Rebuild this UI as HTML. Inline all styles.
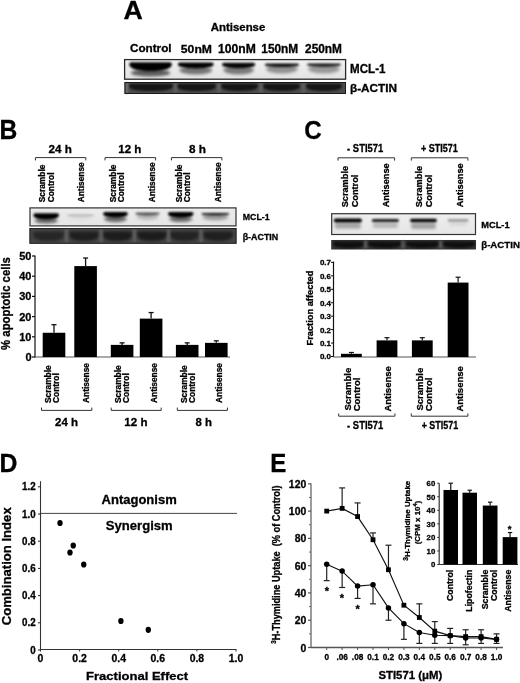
<!DOCTYPE html>
<html><head><meta charset="utf-8"><title>Figure</title>
<style>
html,body{margin:0;padding:0;background:#fff;}
body{width:520px;height:683px;overflow:hidden;}
svg{display:block;font-family:"Liberation Sans", Arial, sans-serif;font-weight:bold;}
text{fill:#000;stroke:#000;stroke-width:0.3px;}
</style></head>
<body>
<svg width="520" height="683" viewBox="0 0 520 683">
<defs><filter id="b0_8" x="-50%" y="-100%" width="200%" height="300%"><feGaussianBlur stdDeviation="0.8"/></filter><filter id="b0_9" x="-50%" y="-100%" width="200%" height="300%"><feGaussianBlur stdDeviation="0.9"/></filter><filter id="b1_2" x="-50%" y="-100%" width="200%" height="300%"><feGaussianBlur stdDeviation="1.2"/></filter><filter id="b1_6" x="-50%" y="-100%" width="200%" height="300%"><feGaussianBlur stdDeviation="1.6"/></filter><filter id="b1_8" x="-50%" y="-100%" width="200%" height="300%"><feGaussianBlur stdDeviation="1.8"/></filter><linearGradient id="gA" x1="0" y1="0" x2="0" y2="1"><stop offset="0" stop-color="#f2f2f2"/><stop offset="1" stop-color="#e2e2e2"/></linearGradient><linearGradient id="gB" x1="0" y1="0" x2="0" y2="1"><stop offset="0" stop-color="#ececec"/><stop offset="1" stop-color="#e4e4e4"/></linearGradient><linearGradient id="gC" x1="0" y1="0" x2="0" y2="1"><stop offset="0" stop-color="#eeeeee"/><stop offset="1" stop-color="#e6e6e6"/></linearGradient></defs>
<rect width="520" height="683" fill="#fff"/>
<text transform="translate(123.53,18.75) scale(1.041,1)" font-size="25.67" text-anchor="start" >A</text>
<text transform="translate(210.71,30.99) scale(1.038,1)" font-size="11.02" text-anchor="start" >Antisense</text>
<text transform="translate(129.93,52.39) scale(1.038,1)" font-size="11.29" text-anchor="start" >Control</text>
<text transform="translate(180.83,52.68) scale(1.043,1)" font-size="11.69" text-anchor="start" >50nM</text>
<text transform="translate(218.02,52.88) scale(1.014,1)" font-size="11.97" text-anchor="start" >100nM</text>
<text transform="translate(261.29,52.88) scale(0.993,1)" font-size="11.97" text-anchor="start" >150nM</text>
<text transform="translate(305.08,52.88) scale(0.992,1)" font-size="11.97" text-anchor="start" >250nM</text>
<rect x="124" y="59" width="222" height="20.5" fill="url(#gA)" />
<path d="M129.3,64.2 Q129.3,62.2 131.3,62.2 L169.8,62.2 Q171.8,62.2 171.8,64.2 C171.8,68.95 163.3,71.2 150.55,71.2 C137.8,71.2 129.3,68.95 129.3,64.2 Z" fill="#000" fill-opacity="1.0" filter="url(#b0_9)"/>
<ellipse cx="150.55" cy="72.88" rx="19.55" ry="3.62" fill="#000" fill-opacity="0.6" filter="url(#b1_6)"/>
<path d="M177.8,64.5 Q177.8,62.5 179.8,62.5 L211.7,62.5 Q213.7,62.5 213.7,64.5 C213.7,66.93 206.52,68.4 195.75,68.4 C184.98,68.4 177.8,66.93 177.8,64.5 Z" fill="#000" fill-opacity="1.0" filter="url(#b0_9)"/>
<ellipse cx="195.75" cy="70.36" rx="16.51" ry="4.14" fill="#000" fill-opacity="0.5" filter="url(#b1_6)"/>
<path d="M222,64.8 Q222,62.8 224,62.8 L253.2,62.8 Q255.2,62.8 255.2,64.8 C255.2,66.92 248.56,68.3 238.6,68.3 C228.64,68.3 222,66.92 222,64.8 Z" fill="#000" fill-opacity="0.97" filter="url(#b0_9)"/>
<ellipse cx="238.6" cy="70.3" rx="15.27" ry="4.21" fill="#000" fill-opacity="0.48" filter="url(#b1_6)"/>
<path d="M264.8,65.2 Q264.8,63.4 266.6,63.4 L297.2,63.4 Q299,63.4 299,65.2 C299,66.1 292.16,67 281.9,67 C271.64,67 264.8,66.1 264.8,65.2 Z" fill="#000" fill-opacity="0.9" filter="url(#b0_9)"/>
<ellipse cx="281.9" cy="69.1" rx="15.73" ry="4.4" fill="#000" fill-opacity="0.38" filter="url(#b1_6)"/>
<path d="M306.8,65.1 Q306.8,63.4 308.5,63.4 L339.3,63.4 Q341,63.4 341,65.1 C341,65.95 334.16,66.8 323.9,66.8 C313.64,66.8 306.8,65.95 306.8,65.1 Z" fill="#000" fill-opacity="0.85" filter="url(#b0_9)"/>
<ellipse cx="323.9" cy="68.97" rx="15.73" ry="4.53" fill="#000" fill-opacity="0.35" filter="url(#b1_6)"/>
<rect x="124.6" y="59.6" width="221" height="19.6" fill="none" stroke="#2a2a2a" stroke-width="1.3"/>
<rect x="124.5" y="82" width="221.5" height="11.7" fill="#4c4c4c" />
<path d="M129,85.8 Q129,83.8 131,83.8 L171,83.8 Q173,83.8 173,85.8 C173,90.28 164.2,91 151,91 C137.8,91 129,90.28 129,85.8 Z" fill="#000" fill-opacity="0.72" filter="url(#b1_2)"/>
<path d="M177,85.8 Q177,83.8 179,83.8 L214,83.8 Q216,83.8 216,85.8 C216,90.28 208.2,91 196.5,91 C184.8,91 177,90.28 177,85.8 Z" fill="#000" fill-opacity="0.72" filter="url(#b1_2)"/>
<path d="M221,85.8 Q221,83.8 223,83.8 L256,83.8 Q258,83.8 258,85.8 C258,90.28 250.6,91 239.5,91 C228.4,91 221,90.28 221,85.8 Z" fill="#000" fill-opacity="0.72" filter="url(#b1_2)"/>
<path d="M263,85.8 Q263,83.8 265,83.8 L298,83.8 Q300,83.8 300,85.8 C300,90.28 292.6,91 281.5,91 C270.4,91 263,90.28 263,85.8 Z" fill="#000" fill-opacity="0.72" filter="url(#b1_2)"/>
<path d="M306,85.8 Q306,83.8 308,83.8 L340,83.8 Q342,83.8 342,85.8 C342,90.28 334.8,91 324,91 C313.2,91 306,90.28 306,85.8 Z" fill="#000" fill-opacity="0.72" filter="url(#b1_2)"/>
<rect x="125" y="82.5" width="3" height="11" fill="#888" fill-opacity="0.6" filter="url(#b0_8)"/>
<rect x="174" y="83" width="3" height="10" fill="#777" fill-opacity="0.45" filter="url(#b1_2)"/>
<rect x="217.5" y="83" width="3" height="10" fill="#777" fill-opacity="0.45" filter="url(#b1_2)"/>
<rect x="259.5" y="83" width="3" height="10" fill="#777" fill-opacity="0.45" filter="url(#b1_2)"/>
<rect x="302" y="83" width="3" height="10" fill="#777" fill-opacity="0.45" filter="url(#b1_2)"/>
<rect x="125" y="82.5" width="220.5" height="11" fill="none" stroke="#1a1a1a" stroke-width="1"/>
<text transform="translate(350.05,72.78) scale(0.969,1)" font-size="11.97" text-anchor="start" >MCL-1</text>
<text transform="translate(349.97,91.7) scale(1.070,1)" font-size="11.01" text-anchor="start" >β-ACTIN</text>
<text transform="translate(-0.45,138.7) scale(0.920,1)" font-size="26.81" text-anchor="start" >B</text>
<text transform="translate(48.59,152.7) scale(1.043,1)" font-size="11.17" text-anchor="start" >24 h</text>
<text transform="translate(118.2,152.7) scale(1.051,1)" font-size="11.03" text-anchor="start" >12 h</text>
<text transform="translate(188.95,152.59) scale(1.078,1)" font-size="10.88" text-anchor="start" >8 h</text>
<path d="M35.4,160.4 L35.4,157.6 L85.8,157.6 L85.8,160.4" stroke="#333" stroke-width="1" fill="none"/>
<path d="M105,160.4 L105,157.6 L155.6,157.6 L155.6,160.4" stroke="#333" stroke-width="1" fill="none"/>
<path d="M171.4,160.4 L171.4,157.6 L221.9,157.6 L221.9,160.4" stroke="#333" stroke-width="1" fill="none"/>
<text transform="translate(45.4,202.3) rotate(-90)" font-size="8.4" text-anchor="start" >Scramble</text>
<text transform="translate(53.5,202.3) rotate(-90)" font-size="8.4" text-anchor="start" >Control</text>
<text transform="translate(83.5,202.3) rotate(-90)" font-size="8.4" text-anchor="start" >Antisense</text>
<text transform="translate(115.7,202.3) rotate(-90)" font-size="8.4" text-anchor="start" >Scramble</text>
<text transform="translate(123.8,202.3) rotate(-90)" font-size="8.4" text-anchor="start" >Control</text>
<text transform="translate(155,202.3) rotate(-90)" font-size="8.4" text-anchor="start" >Antisense</text>
<text transform="translate(181.9,202.3) rotate(-90)" font-size="8.4" text-anchor="start" >Scramble</text>
<text transform="translate(190,202.3) rotate(-90)" font-size="8.4" text-anchor="start" >Control</text>
<text transform="translate(221,202.3) rotate(-90)" font-size="8.4" text-anchor="start" >Antisense</text>
<rect x="29.5" y="207.4" width="207" height="18.8" fill="url(#gB)" />
<path d="M33.4,215.2 Q33.4,213.2 35.4,213.2 L57,213.2 Q59,213.2 59,215.2 C59,218 53.88,219.6 46.2,219.6 C38.52,219.6 33.4,218 33.4,215.2 Z" fill="#000" fill-opacity="1.0" filter="url(#b0_9)"/>
<ellipse cx="46.2" cy="220.79" rx="11.78" ry="2.71" fill="#000" fill-opacity="0.55" filter="url(#b1_6)"/>
<path d="M67,215.4 Q67,214.6 67.8,214.6 L93.2,214.6 Q94,214.6 94,215.4 C94,215.8 88.6,216.2 80.5,216.2 C72.4,216.2 67,215.8 67,215.4 Z" fill="#000" fill-opacity="0.22" filter="url(#b0_9)"/>
<ellipse cx="80.5" cy="217.18" rx="12.42" ry="2.32" fill="#000" fill-opacity="0.06" filter="url(#b1_6)"/>
<path d="M103.1,214.1 Q103.1,212.1 105.1,212.1 L125.8,212.1 Q127.8,212.1 127.8,214.1 C127.8,216.22 122.86,217.6 115.45,217.6 C108.04,217.6 103.1,216.22 103.1,214.1 Z" fill="#000" fill-opacity="1.0" filter="url(#b0_9)"/>
<ellipse cx="115.45" cy="219.07" rx="11.36" ry="3.23" fill="#000" fill-opacity="0.55" filter="url(#b1_6)"/>
<path d="M135.4,214.05 Q135.4,212.6 136.85,212.6 L158.15,212.6 Q159.6,212.6 159.6,214.05 C159.6,214.78 154.76,215.5 147.5,215.5 C140.24,215.5 135.4,214.78 135.4,214.05 Z" fill="#000" fill-opacity="0.6" filter="url(#b0_9)"/>
<ellipse cx="147.5" cy="216.9" rx="11.13" ry="3.1" fill="#000" fill-opacity="0.2" filter="url(#b1_6)"/>
<path d="M168,214 Q168,212 170,212 L191.5,212 Q193.5,212 193.5,214 C193.5,216.35 188.4,217.8 180.75,217.8 C173.1,217.8 168,216.35 168,214 Z" fill="#000" fill-opacity="1.0" filter="url(#b0_9)"/>
<ellipse cx="180.75" cy="219.09" rx="11.73" ry="2.9" fill="#000" fill-opacity="0.55" filter="url(#b1_6)"/>
<path d="M201.5,214.25 Q201.5,212.9 202.85,212.9 L227.85,212.9 Q229.2,212.9 229.2,214.25 C229.2,214.93 223.66,215.6 215.35,215.6 C207.04,215.6 201.5,214.93 201.5,214.25 Z" fill="#000" fill-opacity="0.82" filter="url(#b0_9)"/>
<ellipse cx="215.35" cy="217.14" rx="12.74" ry="3.36" fill="#000" fill-opacity="0.32" filter="url(#b1_6)"/>
<rect x="30" y="207.9" width="206" height="18" fill="none" stroke="#333" stroke-width="1.2"/>
<rect x="29.5" y="228" width="207" height="15.6" fill="#454545" />
<path d="M33,233.5 Q33,231.5 35,231.5 L62,231.5 Q64,231.5 64,233.5 C64,240.05 57.8,241 48.5,241 C39.2,241 33,240.05 33,233.5 Z" fill="#000" fill-opacity="0.45" filter="url(#b1_8)"/>
<path d="M69,233.5 Q69,231.5 71,231.5 L97,231.5 Q99,231.5 99,233.5 C99,240.05 93,241 84,241 C75,241 69,240.05 69,233.5 Z" fill="#000" fill-opacity="0.55" filter="url(#b1_8)"/>
<path d="M103,233.5 Q103,231.5 105,231.5 L130,231.5 Q132,231.5 132,233.5 C132,240.05 126.2,241 117.5,241 C108.8,241 103,240.05 103,233.5 Z" fill="#000" fill-opacity="0.6" filter="url(#b1_8)"/>
<path d="M137,233.5 Q137,231.5 139,231.5 L165,231.5 Q167,231.5 167,233.5 C167,240.05 161,241 152,241 C143,241 137,240.05 137,233.5 Z" fill="#000" fill-opacity="0.6" filter="url(#b1_8)"/>
<path d="M170,233.5 Q170,231.5 172,231.5 L197,231.5 Q199,231.5 199,233.5 C199,240.05 193.2,241 184.5,241 C175.8,241 170,240.05 170,233.5 Z" fill="#000" fill-opacity="0.5" filter="url(#b1_8)"/>
<path d="M203,233.5 Q203,231.5 205,231.5 L231,231.5 Q233,231.5 233,233.5 C233,240.05 227,241 218,241 C209,241 203,240.05 203,233.5 Z" fill="#000" fill-opacity="0.55" filter="url(#b1_8)"/>
<rect x="65" y="229" width="3" height="13.5" fill="#777" fill-opacity="0.5" filter="url(#b1_2)"/>
<rect x="99.5" y="229" width="3" height="13.5" fill="#777" fill-opacity="0.5" filter="url(#b1_2)"/>
<rect x="133" y="229" width="3" height="13.5" fill="#777" fill-opacity="0.5" filter="url(#b1_2)"/>
<rect x="167" y="229" width="3" height="13.5" fill="#777" fill-opacity="0.5" filter="url(#b1_2)"/>
<rect x="199.5" y="229" width="3" height="13.5" fill="#777" fill-opacity="0.5" filter="url(#b1_2)"/>
<rect x="30" y="228.5" width="206" height="14.8" fill="none" stroke="#222" stroke-width="1"/>
<text transform="translate(242.73,219.7) scale(0.919,1)" font-size="9.58" text-anchor="start" >MCL-1</text>
<text transform="translate(242.68,239.5) scale(1.005,1)" font-size="8.84" text-anchor="start" >β-ACTIN</text>
<line x1="35" y1="255.4" x2="35" y2="357.5" stroke="#111" stroke-width="1.2"/>
<line x1="32" y1="357" x2="35" y2="357" stroke="#111" stroke-width="1.2"/>
<text x="31.5" y="360.9" font-size="11" text-anchor="end" >0</text>
<line x1="32" y1="336.8" x2="35" y2="336.8" stroke="#111" stroke-width="1.2"/>
<text x="31.5" y="340.7" font-size="11" text-anchor="end" >10</text>
<line x1="32" y1="316.6" x2="35" y2="316.6" stroke="#111" stroke-width="1.2"/>
<text x="31.5" y="320.5" font-size="11" text-anchor="end" >20</text>
<line x1="32" y1="296.4" x2="35" y2="296.4" stroke="#111" stroke-width="1.2"/>
<text x="31.5" y="300.3" font-size="11" text-anchor="end" >30</text>
<line x1="32" y1="276.2" x2="35" y2="276.2" stroke="#111" stroke-width="1.2"/>
<text x="31.5" y="280.1" font-size="11" text-anchor="end" >40</text>
<line x1="32" y1="256" x2="35" y2="256" stroke="#111" stroke-width="1.2"/>
<text x="31.5" y="259.9" font-size="11" text-anchor="end" >50</text>
<text transform="translate(9.6,303.5) rotate(-90) scale(0.932,1)" font-size="12.2" text-anchor="middle" >% apoptotic cells</text>
<line x1="35" y1="357" x2="230" y2="357" stroke="#555" stroke-width="1.2"/>
<rect x="42.7" y="332.76" width="22.6" height="24.24" fill="#000" />
<line x1="54" y1="324.68" x2="54" y2="332.76" stroke="#111" stroke-width="1.3"/>
<line x1="51.5" y1="324.68" x2="56.5" y2="324.68" stroke="#111" stroke-width="1.3"/>
<rect x="74.3" y="266.1" width="22.6" height="90.9" fill="#000" />
<line x1="85.6" y1="258.02" x2="85.6" y2="266.1" stroke="#111" stroke-width="1.3"/>
<line x1="83.1" y1="258.02" x2="88.1" y2="258.02" stroke="#111" stroke-width="1.3"/>
<rect x="110.8" y="344.88" width="22.6" height="12.12" fill="#000" />
<line x1="122.1" y1="342.86" x2="122.1" y2="344.88" stroke="#111" stroke-width="1.3"/>
<line x1="119.6" y1="342.86" x2="124.6" y2="342.86" stroke="#111" stroke-width="1.3"/>
<rect x="139.8" y="318.62" width="22.6" height="38.38" fill="#000" />
<line x1="151.1" y1="312.56" x2="151.1" y2="318.62" stroke="#111" stroke-width="1.3"/>
<line x1="148.6" y1="312.56" x2="153.6" y2="312.56" stroke="#111" stroke-width="1.3"/>
<rect x="175.9" y="344.88" width="22.6" height="12.12" fill="#000" />
<line x1="187.2" y1="342.86" x2="187.2" y2="344.88" stroke="#111" stroke-width="1.3"/>
<line x1="184.7" y1="342.86" x2="189.7" y2="342.86" stroke="#111" stroke-width="1.3"/>
<rect x="205" y="342.86" width="22.6" height="14.14" fill="#000" />
<line x1="216.3" y1="340.84" x2="216.3" y2="342.86" stroke="#111" stroke-width="1.3"/>
<line x1="213.8" y1="340.84" x2="218.8" y2="340.84" stroke="#111" stroke-width="1.3"/>
<text transform="translate(50.8,403) rotate(-90)" font-size="8.4" text-anchor="start" >Scramble</text>
<text transform="translate(58.8,403) rotate(-90)" font-size="8.4" text-anchor="start" >Control</text>
<text transform="translate(88.8,403) rotate(-90)" font-size="8.4" text-anchor="start" >Antisense</text>
<text transform="translate(120.7,403) rotate(-90)" font-size="8.4" text-anchor="start" >Scramble</text>
<text transform="translate(128.7,403) rotate(-90)" font-size="8.4" text-anchor="start" >Control</text>
<text transform="translate(157.2,403) rotate(-90)" font-size="8.4" text-anchor="start" >Antisense</text>
<text transform="translate(187,403) rotate(-90)" font-size="8.4" text-anchor="start" >Scramble</text>
<text transform="translate(195,403) rotate(-90)" font-size="8.4" text-anchor="start" >Control</text>
<text transform="translate(221.8,403) rotate(-90)" font-size="8.4" text-anchor="start" >Antisense</text>
<path d="M41.5,407.59999999999997 L41.5,410.4 L91.8,410.4 L91.8,407.59999999999997" stroke="#333" stroke-width="1" fill="none"/>
<path d="M111.2,407.59999999999997 L111.2,410.4 L161.2,410.4 L161.2,407.59999999999997" stroke="#333" stroke-width="1" fill="none"/>
<path d="M177.3,407.59999999999997 L177.3,410.4 L227.4,410.4 L227.4,407.59999999999997" stroke="#333" stroke-width="1" fill="none"/>
<text transform="translate(55,426) scale(1.016,1)" font-size="11.31" text-anchor="start" >24 h</text>
<text transform="translate(124.3,426) scale(1.025,1)" font-size="11.31" text-anchor="start" >12 h</text>
<text transform="translate(195.46,425.89) scale(1.019,1)" font-size="11.16" text-anchor="start" >8 h</text>
<text transform="translate(304.34,138.74) scale(0.911,1)" font-size="26.48" text-anchor="start" >C</text>
<text transform="translate(347.12,151.9) scale(0.890,1)" font-size="10.58" text-anchor="start" >- STI571</text>
<text transform="translate(420.89,151.9) scale(0.852,1)" font-size="10.58" text-anchor="start" >+ STI571</text>
<path d="M338,160.60000000000002 L338,157.8 L394.6,157.8 L394.6,160.60000000000002" stroke="#333" stroke-width="1" fill="none"/>
<path d="M411.3,160.60000000000002 L411.3,157.8 L467.9,157.8 L467.9,160.60000000000002" stroke="#333" stroke-width="1" fill="none"/>
<text transform="translate(348.4,207.3) rotate(-90)" font-size="9.2" text-anchor="start" >Scramble</text>
<text transform="translate(357.9,207.3) rotate(-90)" font-size="9.2" text-anchor="start" >Control</text>
<text transform="translate(389,207.3) rotate(-90)" font-size="9.2" text-anchor="start" >Antisense</text>
<text transform="translate(422,207.3) rotate(-90)" font-size="9.2" text-anchor="start" >Scramble</text>
<text transform="translate(431.5,207.3) rotate(-90)" font-size="9.2" text-anchor="start" >Control</text>
<text transform="translate(463.3,207.3) rotate(-90)" font-size="9.2" text-anchor="start" >Antisense</text>
<rect x="331.2" y="213.2" width="144.8" height="21.4" fill="url(#gC)" />
<rect x="333.8" y="218.6" width="28.1" height="3.8" rx="1.9" fill="#000" fill-opacity="1.0" filter="url(#b0_8)"/>
<rect x="334.8" y="222.9" width="26.1" height="5.6" rx="2" fill="#000" fill-opacity="0.3" filter="url(#b1_8)"/>
<rect x="371.8" y="218.9" width="27.1" height="3.1" rx="1.55" fill="#000" fill-opacity="0.88" filter="url(#b0_8)"/>
<rect x="372.8" y="222.5" width="25.1" height="5.5" rx="2" fill="#000" fill-opacity="0.22" filter="url(#b1_8)"/>
<rect x="410" y="218.7" width="26.9" height="3.6" rx="1.8" fill="#000" fill-opacity="1.0" filter="url(#b0_8)"/>
<rect x="411" y="222.8" width="24.9" height="6.2" rx="2" fill="#000" fill-opacity="0.3" filter="url(#b1_8)"/>
<rect x="447.7" y="219.2" width="20.8" height="2.3" rx="1.15" fill="#000" fill-opacity="0.4" filter="url(#b0_8)"/>
<rect x="448.7" y="222" width="18.8" height="4" rx="2" fill="#000" fill-opacity="0.08" filter="url(#b1_8)"/>
<rect x="331.7" y="213.7" width="143.8" height="20.8" fill="none" stroke="#333" stroke-width="1.2"/>
<rect x="331.2" y="240" width="144.8" height="9.5" fill="#333" />
<path d="M333,243.5 Q333,241.5 335,241.5 L362,241.5 Q364,241.5 364,243.5 C364,247.35 357.8,248 348.5,248 C339.2,248 333,247.35 333,243.5 Z" fill="#000" fill-opacity="0.7" filter="url(#b1_2)"/>
<path d="M368,243.5 Q368,241.5 370,241.5 L399,241.5 Q401,241.5 401,243.5 C401,247.35 394.4,248 384.5,248 C374.6,248 368,247.35 368,243.5 Z" fill="#000" fill-opacity="0.7" filter="url(#b1_2)"/>
<path d="M406,243.5 Q406,241.5 408,241.5 L437,241.5 Q439,241.5 439,243.5 C439,247.35 432.4,248 422.5,248 C412.6,248 406,247.35 406,243.5 Z" fill="#000" fill-opacity="0.7" filter="url(#b1_2)"/>
<path d="M443,243.5 Q443,241.5 445,241.5 L473,241.5 Q475,241.5 475,243.5 C475,247.35 468.6,248 459,248 C449.4,248 443,247.35 443,243.5 Z" fill="#000" fill-opacity="0.7" filter="url(#b1_2)"/>
<rect x="364" y="240.5" width="3" height="8.5" fill="#777" fill-opacity="0.55" filter="url(#b1_2)"/>
<rect x="401.5" y="240.5" width="3" height="8.5" fill="#777" fill-opacity="0.55" filter="url(#b1_2)"/>
<rect x="439" y="240.5" width="3" height="8.5" fill="#777" fill-opacity="0.55" filter="url(#b1_2)"/>
<text transform="translate(481.3,227.81) scale(1.029,1)" font-size="9.01" text-anchor="start" >MCL-1</text>
<text transform="translate(481.22,248) scale(0.983,1)" font-size="9.86" text-anchor="start" >β-ACTIN</text>
<line x1="333.5" y1="261.5" x2="333.5" y2="357" stroke="#111" stroke-width="1.2"/>
<line x1="331" y1="356.5" x2="333.5" y2="356.5" stroke="#111" stroke-width="1"/>
<text x="331" y="359.4" font-size="8" text-anchor="end" >0.0</text>
<line x1="331" y1="343.06" x2="333.5" y2="343.06" stroke="#111" stroke-width="1"/>
<text x="331" y="345.96" font-size="8" text-anchor="end" >0.1</text>
<line x1="331" y1="329.62" x2="333.5" y2="329.62" stroke="#111" stroke-width="1"/>
<text x="331" y="332.52" font-size="8" text-anchor="end" >0.2</text>
<line x1="331" y1="316.18" x2="333.5" y2="316.18" stroke="#111" stroke-width="1"/>
<text x="331" y="319.08" font-size="8" text-anchor="end" >0.3</text>
<line x1="331" y1="302.74" x2="333.5" y2="302.74" stroke="#111" stroke-width="1"/>
<text x="331" y="305.64" font-size="8" text-anchor="end" >0.4</text>
<line x1="331" y1="289.3" x2="333.5" y2="289.3" stroke="#111" stroke-width="1"/>
<text x="331" y="292.2" font-size="8" text-anchor="end" >0.5</text>
<line x1="331" y1="275.86" x2="333.5" y2="275.86" stroke="#111" stroke-width="1"/>
<text x="331" y="278.76" font-size="8" text-anchor="end" >0.6</text>
<line x1="331" y1="262.42" x2="333.5" y2="262.42" stroke="#111" stroke-width="1"/>
<text x="331" y="265.32" font-size="8" text-anchor="end" >0.7</text>
<text transform="translate(312.7,308.1) rotate(-90)" font-size="9.3" text-anchor="middle" >Fraction affected</text>
<line x1="333.5" y1="357" x2="476" y2="357" stroke="#555" stroke-width="1.2"/>
<rect x="341" y="353.81" width="20.8" height="3.19" fill="#000" />
<line x1="351.4" y1="352.47" x2="351.4" y2="353.81" stroke="#111" stroke-width="1.2"/>
<line x1="348.9" y1="352.47" x2="353.9" y2="352.47" stroke="#111" stroke-width="1.2"/>
<rect x="376.6" y="340.37" width="20.8" height="16.63" fill="#000" />
<line x1="387" y1="337.68" x2="387" y2="340.37" stroke="#111" stroke-width="1.2"/>
<line x1="384.5" y1="337.68" x2="389.5" y2="337.68" stroke="#111" stroke-width="1.2"/>
<rect x="411.9" y="340.37" width="20.8" height="16.63" fill="#000" />
<line x1="422.3" y1="337.68" x2="422.3" y2="340.37" stroke="#111" stroke-width="1.2"/>
<line x1="419.8" y1="337.68" x2="424.8" y2="337.68" stroke="#111" stroke-width="1.2"/>
<rect x="447.7" y="282.58" width="20.8" height="74.42" fill="#000" />
<line x1="458.1" y1="277.2" x2="458.1" y2="282.58" stroke="#111" stroke-width="1.2"/>
<line x1="455.6" y1="277.2" x2="460.6" y2="277.2" stroke="#111" stroke-width="1.2"/>
<text transform="translate(350.5,410.6) rotate(-90)" font-size="9.5" text-anchor="start" >Scramble</text>
<text transform="translate(360,411.3) rotate(-90)" font-size="9.5" text-anchor="start" >Control</text>
<text transform="translate(391,411.6) rotate(-90)" font-size="9.5" text-anchor="start" >Antisense</text>
<text transform="translate(422.6,410.6) rotate(-90)" font-size="9.5" text-anchor="start" >Scramble</text>
<text transform="translate(432.1,411.3) rotate(-90)" font-size="9.5" text-anchor="start" >Control</text>
<text transform="translate(463.2,411.6) rotate(-90)" font-size="9.5" text-anchor="start" >Antisense</text>
<path d="M338.7,413.4 L338.7,416.2 L394.9,416.2 L394.9,413.4" stroke="#333" stroke-width="1" fill="none"/>
<path d="M411.3,413.4 L411.3,416.2 L467.9,416.2 L467.9,413.4" stroke="#333" stroke-width="1" fill="none"/>
<text transform="translate(347.12,429.4) scale(0.890,1)" font-size="10.58" text-anchor="start" >- STI571</text>
<text transform="translate(421.64,429.4) scale(0.846,1)" font-size="10.58" text-anchor="start" >+ STI571</text>
<text transform="translate(-0.47,471.8) scale(0.959,1)" font-size="25.94" text-anchor="start" >D</text>
<line x1="40.5" y1="481.2" x2="40.5" y2="650" stroke="#333" stroke-width="1.1"/>
<line x1="38" y1="650" x2="40.5" y2="650" stroke="#222" stroke-width="1"/>
<text transform="translate(35.6,653.6) scale(0.950,1)" font-size="10.3" text-anchor="end" >0</text>
<line x1="38" y1="622.8" x2="40.5" y2="622.8" stroke="#222" stroke-width="1"/>
<text transform="translate(35.6,626.4) scale(0.950,1)" font-size="10.3" text-anchor="end" >0.2</text>
<line x1="38" y1="595.6" x2="40.5" y2="595.6" stroke="#222" stroke-width="1"/>
<text transform="translate(35.6,599.2) scale(0.950,1)" font-size="10.3" text-anchor="end" >0.4</text>
<line x1="38" y1="568.4" x2="40.5" y2="568.4" stroke="#222" stroke-width="1"/>
<text transform="translate(35.6,572) scale(0.950,1)" font-size="10.3" text-anchor="end" >0.6</text>
<line x1="38" y1="541.2" x2="40.5" y2="541.2" stroke="#222" stroke-width="1"/>
<text transform="translate(35.6,544.8) scale(0.950,1)" font-size="10.3" text-anchor="end" >0.8</text>
<line x1="38" y1="514" x2="40.5" y2="514" stroke="#222" stroke-width="1"/>
<text transform="translate(35.6,517.6) scale(0.950,1)" font-size="10.3" text-anchor="end" >1.0</text>
<line x1="38" y1="486.8" x2="40.5" y2="486.8" stroke="#222" stroke-width="1"/>
<text transform="translate(35.6,490.4) scale(0.950,1)" font-size="10.3" text-anchor="end" >1.2</text>
<text transform="translate(11.06,625.32) rotate(-90) scale(0.964,1)" font-size="13.61" text-anchor="start" >Combination Index</text>
<line x1="40" y1="649.5" x2="236.5" y2="649.5" stroke="#333" stroke-width="1.1"/>
<line x1="40.5" y1="649.5" x2="40.5" y2="651.5" stroke="#333" stroke-width="1"/>
<text transform="translate(40.5,661.9) scale(0.950,1)" font-size="11" text-anchor="middle" >0</text>
<line x1="79.6" y1="649.5" x2="79.6" y2="651.5" stroke="#333" stroke-width="1"/>
<text transform="translate(79.6,661.9) scale(0.950,1)" font-size="11" text-anchor="middle" >0.2</text>
<line x1="118.7" y1="649.5" x2="118.7" y2="651.5" stroke="#333" stroke-width="1"/>
<text transform="translate(118.7,661.9) scale(0.950,1)" font-size="11" text-anchor="middle" >0.4</text>
<line x1="157.8" y1="649.5" x2="157.8" y2="651.5" stroke="#333" stroke-width="1"/>
<text transform="translate(157.8,661.9) scale(0.950,1)" font-size="11" text-anchor="middle" >0.6</text>
<line x1="196.9" y1="649.5" x2="196.9" y2="651.5" stroke="#333" stroke-width="1"/>
<text transform="translate(196.9,661.9) scale(0.950,1)" font-size="11" text-anchor="middle" >0.8</text>
<line x1="236" y1="649.5" x2="236" y2="651.5" stroke="#333" stroke-width="1"/>
<text transform="translate(236,661.9) scale(0.950,1)" font-size="11" text-anchor="middle" >1.0</text>
<text transform="translate(86.05,680.38) scale(1.114,1)" font-size="11.7" text-anchor="start" >Fractional Effect</text>
<line x1="40.5" y1="513.4" x2="237" y2="513.4" stroke="#444" stroke-width="1"/>
<text transform="translate(101.57,504.2) scale(0.998,1)" font-size="13.04" text-anchor="start" >Antagonism</text>
<text transform="translate(105.81,530.2) scale(0.961,1)" font-size="13.62" text-anchor="start" >Synergism</text>
<ellipse cx="60" cy="523" rx="2.7" ry="3.1" fill="#000"/>
<ellipse cx="73.25" cy="545.5" rx="2.7" ry="3.1" fill="#000"/>
<ellipse cx="70" cy="552.5" rx="2.7" ry="3.1" fill="#000"/>
<ellipse cx="83.75" cy="564.5" rx="2.7" ry="3.1" fill="#000"/>
<ellipse cx="120.9" cy="621" rx="2.7" ry="3.1" fill="#000"/>
<ellipse cx="148.3" cy="629.8" rx="2.7" ry="3.1" fill="#000"/>
<text transform="translate(270.34,471.8) scale(0.928,1)" font-size="25.94" text-anchor="start" >E</text>
<line x1="311" y1="483.5" x2="311" y2="648" stroke="#666" stroke-width="1.3"/>
<line x1="308" y1="647.5" x2="311" y2="647.5" stroke="#555" stroke-width="1.2"/>
<text transform="translate(306.3,651.5) scale(0.950,1)" font-size="11" text-anchor="end" >0</text>
<line x1="309" y1="633.86" x2="311" y2="633.86" stroke="#666" stroke-width="1"/>
<line x1="308" y1="620.22" x2="311" y2="620.22" stroke="#555" stroke-width="1.2"/>
<text transform="translate(306.3,624.22) scale(0.950,1)" font-size="11" text-anchor="end" >20</text>
<line x1="309" y1="606.58" x2="311" y2="606.58" stroke="#666" stroke-width="1"/>
<line x1="308" y1="592.94" x2="311" y2="592.94" stroke="#555" stroke-width="1.2"/>
<text transform="translate(306.3,596.94) scale(0.950,1)" font-size="11" text-anchor="end" >40</text>
<line x1="309" y1="579.3" x2="311" y2="579.3" stroke="#666" stroke-width="1"/>
<line x1="308" y1="565.66" x2="311" y2="565.66" stroke="#555" stroke-width="1.2"/>
<text transform="translate(306.3,569.66) scale(0.950,1)" font-size="11" text-anchor="end" >60</text>
<line x1="309" y1="552.02" x2="311" y2="552.02" stroke="#666" stroke-width="1"/>
<line x1="308" y1="538.38" x2="311" y2="538.38" stroke="#555" stroke-width="1.2"/>
<text transform="translate(306.3,542.38) scale(0.950,1)" font-size="11" text-anchor="end" >80</text>
<line x1="309" y1="524.74" x2="311" y2="524.74" stroke="#666" stroke-width="1"/>
<line x1="308" y1="511.1" x2="311" y2="511.1" stroke="#555" stroke-width="1.2"/>
<text transform="translate(306.3,515.1) scale(0.950,1)" font-size="11" text-anchor="end" >100</text>
<line x1="309" y1="497.46" x2="311" y2="497.46" stroke="#666" stroke-width="1"/>
<line x1="308" y1="483.82" x2="311" y2="483.82" stroke="#555" stroke-width="1.2"/>
<text transform="translate(306.3,487.82) scale(0.950,1)" font-size="11" text-anchor="end" >120</text>
<text transform="translate(280,564.6) rotate(-90) scale(0.885,1)" font-size="10.4" text-anchor="middle" xml:space="preserve"><tspan font-size="7" dy="-4">3</tspan><tspan dy="4">H-Thymidine Uptake  (% of Control)</tspan></text>
<line x1="311" y1="647.5" x2="503" y2="647.5" stroke="#555" stroke-width="1.5"/>
<line x1="326.7" y1="647.5" x2="326.7" y2="650" stroke="#555" stroke-width="1"/>
<text transform="translate(326.7,659.6) scale(0.950,1)" font-size="8.7" text-anchor="middle" >0</text>
<line x1="342.14" y1="647.5" x2="342.14" y2="650" stroke="#555" stroke-width="1"/>
<text transform="translate(342.14,659.6) scale(0.950,1)" font-size="8.7" text-anchor="middle" >.06</text>
<line x1="357.58" y1="647.5" x2="357.58" y2="650" stroke="#555" stroke-width="1"/>
<text transform="translate(357.58,659.6) scale(0.950,1)" font-size="8.7" text-anchor="middle" >.08</text>
<line x1="373.02" y1="647.5" x2="373.02" y2="650" stroke="#555" stroke-width="1"/>
<text transform="translate(373.02,659.6) scale(0.950,1)" font-size="8.7" text-anchor="middle" >0.1</text>
<line x1="388.46" y1="647.5" x2="388.46" y2="650" stroke="#555" stroke-width="1"/>
<text transform="translate(388.46,659.6) scale(0.950,1)" font-size="8.7" text-anchor="middle" >0.2</text>
<line x1="403.9" y1="647.5" x2="403.9" y2="650" stroke="#555" stroke-width="1"/>
<text transform="translate(403.9,659.6) scale(0.950,1)" font-size="8.7" text-anchor="middle" >0.3</text>
<line x1="419.34" y1="647.5" x2="419.34" y2="650" stroke="#555" stroke-width="1"/>
<text transform="translate(419.34,659.6) scale(0.950,1)" font-size="8.7" text-anchor="middle" >0.4</text>
<line x1="434.78" y1="647.5" x2="434.78" y2="650" stroke="#555" stroke-width="1"/>
<text transform="translate(434.78,659.6) scale(0.950,1)" font-size="8.7" text-anchor="middle" >0.5</text>
<line x1="450.22" y1="647.5" x2="450.22" y2="650" stroke="#555" stroke-width="1"/>
<text transform="translate(450.22,659.6) scale(0.950,1)" font-size="8.7" text-anchor="middle" >0.6</text>
<line x1="465.66" y1="647.5" x2="465.66" y2="650" stroke="#555" stroke-width="1"/>
<text transform="translate(465.66,659.6) scale(0.950,1)" font-size="8.7" text-anchor="middle" >0.7</text>
<line x1="481.1" y1="647.5" x2="481.1" y2="650" stroke="#555" stroke-width="1"/>
<text transform="translate(481.1,659.6) scale(0.950,1)" font-size="8.7" text-anchor="middle" >0.8</text>
<line x1="496.54" y1="647.5" x2="496.54" y2="650" stroke="#555" stroke-width="1"/>
<text transform="translate(496.54,659.6) scale(0.950,1)" font-size="8.7" text-anchor="middle" >1.0</text>
<text transform="translate(378.46,678.94) scale(1.012,1)" font-size="11.23" text-anchor="start" >STI571 (μM)</text>
<line x1="342.14" y1="487.91" x2="342.14" y2="508.37" stroke="#222" stroke-width="1.2"/>
<line x1="339.14" y1="487.91" x2="345.14" y2="487.91" stroke="#222" stroke-width="1.2"/>
<line x1="357.58" y1="502.92" x2="357.58" y2="516.56" stroke="#222" stroke-width="1.2"/>
<line x1="354.58" y1="502.92" x2="360.58" y2="502.92" stroke="#222" stroke-width="1.2"/>
<line x1="373.02" y1="532.92" x2="373.02" y2="539.74" stroke="#222" stroke-width="1.2"/>
<line x1="370.02" y1="532.92" x2="376.02" y2="532.92" stroke="#222" stroke-width="1.2"/>
<line x1="388.46" y1="545.2" x2="388.46" y2="569.75" stroke="#222" stroke-width="1.2"/>
<line x1="385.46" y1="545.2" x2="391.46" y2="545.2" stroke="#222" stroke-width="1.2"/>
<line x1="419.34" y1="603.85" x2="419.34" y2="617.49" stroke="#222" stroke-width="1.2"/>
<line x1="416.34" y1="603.85" x2="422.34" y2="603.85" stroke="#222" stroke-width="1.2"/>
<line x1="434.78" y1="621.58" x2="434.78" y2="631.13" stroke="#222" stroke-width="1.2"/>
<line x1="431.78" y1="621.58" x2="437.78" y2="621.58" stroke="#222" stroke-width="1.2"/>
<line x1="450.22" y1="628.4" x2="450.22" y2="635.63" stroke="#222" stroke-width="1.2"/>
<line x1="447.22" y1="628.4" x2="453.22" y2="628.4" stroke="#222" stroke-width="1.2"/>
<line x1="465.66" y1="629.77" x2="465.66" y2="636.59" stroke="#222" stroke-width="1.2"/>
<line x1="462.66" y1="629.77" x2="468.66" y2="629.77" stroke="#222" stroke-width="1.2"/>
<line x1="481.1" y1="629.77" x2="481.1" y2="636.59" stroke="#222" stroke-width="1.2"/>
<line x1="478.1" y1="629.77" x2="484.1" y2="629.77" stroke="#222" stroke-width="1.2"/>
<line x1="496.54" y1="633.86" x2="496.54" y2="639.32" stroke="#222" stroke-width="1.2"/>
<line x1="493.54" y1="633.86" x2="499.54" y2="633.86" stroke="#222" stroke-width="1.2"/>
<line x1="326.7" y1="580.66" x2="326.7" y2="564.3" stroke="#222" stroke-width="1.2"/>
<line x1="323.7" y1="580.66" x2="329.7" y2="580.66" stroke="#222" stroke-width="1.2"/>
<line x1="342.14" y1="587.48" x2="342.14" y2="571.12" stroke="#222" stroke-width="1.2"/>
<line x1="339.14" y1="587.48" x2="345.14" y2="587.48" stroke="#222" stroke-width="1.2"/>
<line x1="357.58" y1="598.4" x2="357.58" y2="586.12" stroke="#222" stroke-width="1.2"/>
<line x1="354.58" y1="598.4" x2="360.58" y2="598.4" stroke="#222" stroke-width="1.2"/>
<line x1="373.02" y1="603.85" x2="373.02" y2="584.76" stroke="#222" stroke-width="1.2"/>
<line x1="370.02" y1="603.85" x2="376.02" y2="603.85" stroke="#222" stroke-width="1.2"/>
<line x1="388.46" y1="620.22" x2="388.46" y2="607.94" stroke="#222" stroke-width="1.2"/>
<line x1="385.46" y1="620.22" x2="391.46" y2="620.22" stroke="#222" stroke-width="1.2"/>
<line x1="403.9" y1="639.32" x2="403.9" y2="623.63" stroke="#222" stroke-width="1.2"/>
<line x1="400.9" y1="639.32" x2="406.9" y2="639.32" stroke="#222" stroke-width="1.2"/>
<line x1="419.34" y1="643.41" x2="419.34" y2="632.5" stroke="#222" stroke-width="1.2"/>
<line x1="416.34" y1="643.41" x2="422.34" y2="643.41" stroke="#222" stroke-width="1.2"/>
<line x1="434.78" y1="643.41" x2="434.78" y2="635.22" stroke="#222" stroke-width="1.2"/>
<line x1="431.78" y1="643.41" x2="437.78" y2="643.41" stroke="#222" stroke-width="1.2"/>
<line x1="450.22" y1="643.41" x2="450.22" y2="635.63" stroke="#222" stroke-width="1.2"/>
<line x1="447.22" y1="643.41" x2="453.22" y2="643.41" stroke="#222" stroke-width="1.2"/>
<line x1="465.66" y1="644.77" x2="465.66" y2="637.95" stroke="#222" stroke-width="1.2"/>
<line x1="462.66" y1="644.77" x2="468.66" y2="644.77" stroke="#222" stroke-width="1.2"/>
<line x1="481.1" y1="643.41" x2="481.1" y2="637.95" stroke="#222" stroke-width="1.2"/>
<line x1="478.1" y1="643.41" x2="484.1" y2="643.41" stroke="#222" stroke-width="1.2"/>
<line x1="496.54" y1="643.41" x2="496.54" y2="639.32" stroke="#222" stroke-width="1.2"/>
<line x1="493.54" y1="643.41" x2="499.54" y2="643.41" stroke="#222" stroke-width="1.2"/>
<path d="M326.7,511.1 L342.14,508.37 L357.58,516.56 L373.02,539.74 L388.46,569.75 L403.9,605.22 L419.34,617.49 L434.78,631.13 L450.22,635.63 L465.66,636.59 L481.1,636.59 L496.54,639.32" stroke="#111" stroke-width="1.15" fill="none"/>
<path d="M326.7,564.3 L342.14,571.12 L357.58,586.12 L373.02,584.76 L388.46,607.94 L403.9,623.63 L419.34,632.5 L434.78,635.22 L450.22,635.63 L465.66,637.95 L481.1,637.95 L496.54,639.32" stroke="#111" stroke-width="1.15" fill="none"/>
<rect x="324.3" y="508.7" width="4.8" height="4.8" fill="#000" />
<rect x="339.74" y="505.97" width="4.8" height="4.8" fill="#000" />
<rect x="355.18" y="514.16" width="4.8" height="4.8" fill="#000" />
<rect x="370.62" y="537.34" width="4.8" height="4.8" fill="#000" />
<rect x="386.06" y="567.35" width="4.8" height="4.8" fill="#000" />
<rect x="401.5" y="602.82" width="4.8" height="4.8" fill="#000" />
<rect x="416.94" y="615.09" width="4.8" height="4.8" fill="#000" />
<rect x="432.38" y="628.73" width="4.8" height="4.8" fill="#000" />
<rect x="447.82" y="633.23" width="4.8" height="4.8" fill="#000" />
<rect x="463.26" y="634.19" width="4.8" height="4.8" fill="#000" />
<rect x="478.7" y="634.19" width="4.8" height="4.8" fill="#000" />
<rect x="494.14" y="636.92" width="4.8" height="4.8" fill="#000" />
<circle cx="326.7" cy="564.3" r="2.75" fill="#000"/>
<circle cx="342.14" cy="571.12" r="2.75" fill="#000"/>
<circle cx="357.58" cy="586.12" r="2.75" fill="#000"/>
<circle cx="373.02" cy="584.76" r="2.75" fill="#000"/>
<circle cx="388.46" cy="607.94" r="2.75" fill="#000"/>
<circle cx="403.9" cy="623.63" r="2.75" fill="#000"/>
<circle cx="419.34" cy="632.5" r="2.75" fill="#000"/>
<circle cx="434.78" cy="635.22" r="2.75" fill="#000"/>
<circle cx="450.22" cy="635.63" r="2.75" fill="#000"/>
<circle cx="465.66" cy="637.95" r="2.75" fill="#000"/>
<circle cx="481.1" cy="637.95" r="2.75" fill="#000"/>
<circle cx="496.54" cy="639.32" r="2.75" fill="#000"/>
<text x="326.9" y="595.1" font-size="11" text-anchor="middle" >*</text>
<text x="342" y="602" font-size="11" text-anchor="middle" >*</text>
<text x="357.7" y="613.2" font-size="11" text-anchor="middle" >*</text>
<line x1="439.2" y1="483.2" x2="439.2" y2="565" stroke="#333" stroke-width="1.2"/>
<line x1="437.2" y1="564.5" x2="439.2" y2="564.5" stroke="#333" stroke-width="1"/>
<text x="435.3" y="567.3" font-size="7.8" text-anchor="end" >0</text>
<line x1="437.2" y1="550.95" x2="439.2" y2="550.95" stroke="#333" stroke-width="1"/>
<text x="435.3" y="553.75" font-size="7.8" text-anchor="end" >10</text>
<line x1="437.2" y1="537.4" x2="439.2" y2="537.4" stroke="#333" stroke-width="1"/>
<text x="435.3" y="540.2" font-size="7.8" text-anchor="end" >20</text>
<line x1="437.2" y1="523.85" x2="439.2" y2="523.85" stroke="#333" stroke-width="1"/>
<text x="435.3" y="526.65" font-size="7.8" text-anchor="end" >30</text>
<line x1="437.2" y1="510.3" x2="439.2" y2="510.3" stroke="#333" stroke-width="1"/>
<text x="435.3" y="513.1" font-size="7.8" text-anchor="end" >40</text>
<line x1="437.2" y1="496.75" x2="439.2" y2="496.75" stroke="#333" stroke-width="1"/>
<text x="435.3" y="499.55" font-size="7.8" text-anchor="end" >50</text>
<line x1="437.2" y1="483.2" x2="439.2" y2="483.2" stroke="#333" stroke-width="1"/>
<text x="435.3" y="486" font-size="7.8" text-anchor="end" >60</text>
<line x1="439.2" y1="564.5" x2="518" y2="564.5" stroke="#333" stroke-width="1.2"/>
<rect x="443.5" y="489.98" width="14.5" height="74.52" fill="#000" />
<line x1="450.75" y1="483.2" x2="450.75" y2="489.98" stroke="#111" stroke-width="1.2"/>
<line x1="448.55" y1="483.2" x2="452.95" y2="483.2" stroke="#111" stroke-width="1.2"/>
<rect x="462.5" y="492.69" width="14.5" height="71.81" fill="#000" />
<line x1="469.75" y1="490.25" x2="469.75" y2="492.69" stroke="#111" stroke-width="1.2"/>
<line x1="467.55" y1="490.25" x2="471.95" y2="490.25" stroke="#111" stroke-width="1.2"/>
<rect x="482.8" y="505.56" width="14.7" height="58.94" fill="#000" />
<line x1="490.15" y1="502.17" x2="490.15" y2="505.56" stroke="#111" stroke-width="1.2"/>
<line x1="487.95" y1="502.17" x2="492.35" y2="502.17" stroke="#111" stroke-width="1.2"/>
<rect x="502.7" y="537.13" width="14.7" height="27.37" fill="#000" />
<line x1="510.05" y1="532.52" x2="510.05" y2="537.13" stroke="#111" stroke-width="1.2"/>
<line x1="507.85" y1="532.52" x2="512.25" y2="532.52" stroke="#111" stroke-width="1.2"/>
<text x="509.6" y="532.3" font-size="9.5" text-anchor="middle" >*</text>
<text transform="translate(409.9,520.8) rotate(-90)" font-size="7.9" text-anchor="middle" ><tspan font-size="6.8" dy="-1.6">3</tspan><tspan dy="1.6">H-Thymidine Uptake</tspan></text>
<text transform="translate(419.6,522.6) rotate(-90)" font-size="7.9" text-anchor="middle" >(CPM x 10<tspan font-size="5.5" dy="-3">4</tspan><tspan dy="3">)</tspan></text>
<text transform="translate(453.4,569.7) rotate(-90)" font-size="8.8" text-anchor="end" >Control</text>
<text transform="translate(471.5,569.7) rotate(-90)" font-size="8.8" text-anchor="end" >Lipofectin</text>
<text transform="translate(487.6,569.7) rotate(-90)" font-size="8.8" text-anchor="end" >Scramble</text>
<text transform="translate(496.6,569.7) rotate(-90)" font-size="8.8" text-anchor="end" >Control</text>
<text transform="translate(511.3,569.7) rotate(-90)" font-size="8.8" text-anchor="end" >Antisense</text>
</svg>
</body></html>
